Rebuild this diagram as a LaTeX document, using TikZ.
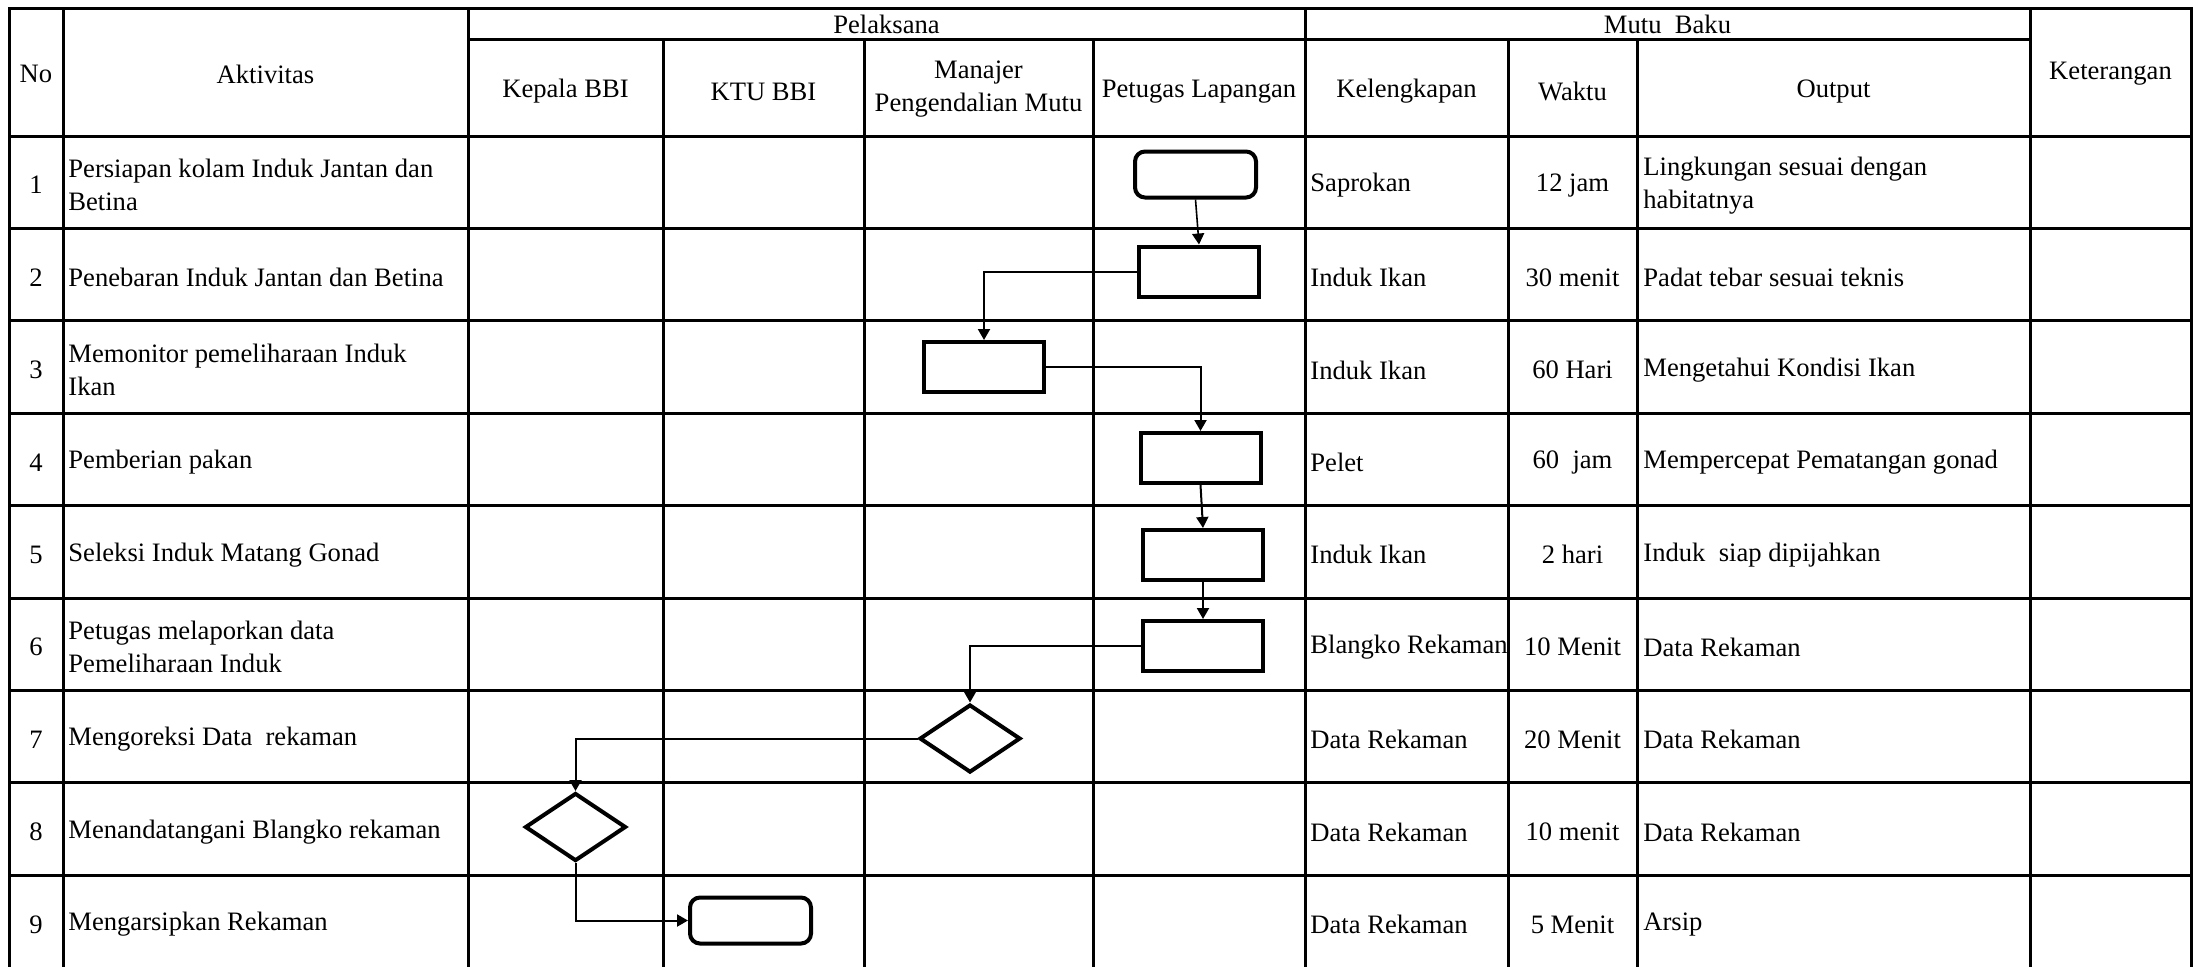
\documentclass[tikz,border=0pt]{standalone}
\usepackage{fontspec}
\setmainfont{Liberation Serif}
\usetikzlibrary{shapes.geometric,arrows.meta}
\begin{document}
\begin{tikzpicture}[x=0.5pt,y=-0.5pt,
  grid/.style={line width=1.5pt, line cap=rect},
  txt/.style={font=\fontsize{13.3}{16.5}\selectfont, inner sep=0pt},
  ltxt/.style={txt, anchor=west, align=left, yshift=-1.5pt},
  ctxt/.style={txt, align=center},
  rtxt/.style={ctxt, yshift=-1.5pt},
  proc/.style={draw, line width=2pt, minimum width=60pt, minimum height=25pt, inner sep=0pt},
  term/.style={proc, rounded corners=5pt, minimum width=60.5pt, minimum height=23pt},
  dec/.style={draw, diamond, line width=2pt, minimum width=50.5pt, minimum height=34pt, inner sep=0pt},
  conn/.style={line width=1pt, -{Triangle[width=6pt,length=5.5pt]}}
]
\useasboundingbox (0,0) rectangle (2198,966);
% grid
\foreach \x in {9,63,468,1305,2030,2191} \draw[grid] (\x,8) -- (\x,966);
\foreach \x in {663,864,1093,1508,1637} \draw[grid] (\x,39) -- (\x,966);
\draw[grid] (9,8) -- (2191,8);
\draw[grid] (468,39) -- (2030,39);
\foreach \k in {0,...,8} \draw[grid] (9,{136+92.4*\k}) -- (2191,{136+92.4*\k});
% headers
\node[ctxt] (hNo) at (36,74) {No};
\node[ctxt] (hAkt) at (265.5,74) {Aktivitas};
\node[ctxt] (hPel) at (886.5,24) {Pelaksana};
\node[ctxt] (hMutu) at (1667.5,24) {Mutu~ Baku};
\node[ctxt] (hKep) at (565.5,91.5) {Kepala BBI};
\node[ctxt] (hKtu) at (763.5,91.5) {KTU BBI};
\node[ctxt] (hMan) at (978.5,89.5) {Manajer\\Pengendalian Mutu};
\node[ctxt] (hPet) at (1199,91.5) {Petugas Lapangan};
\node[ctxt] (hKel) at (1406.5,91.5) {Kelengkapan};
\node[ctxt] (hWak) at (1572.5,91.5) {Waktu};
\node[ctxt] (hOut) at (1833.5,91.5) {Output};
\node[ctxt] (hKet) at (2110.5,74) {Keterangan};
% rows
\foreach \n/\act/\kel/\wak/\out in {
  1/{Persiapan kolam Induk Jantan dan\\Betina}/Saprokan/12 jam/{Lingkungan sesuai dengan\\habitatnya},
  2/{Penebaran Induk Jantan dan Betina}/Induk Ikan/30 menit/{Padat tebar sesuai teknis},
  3/{Memonitor pemeliharaan Induk\\Ikan}/Induk Ikan/60 Hari/{Mengetahui Kondisi Ikan},
  4/{Pemberian pakan}/Pelet/{60~ jam}/{Mempercepat Pematangan gonad},
  5/{Seleksi Induk Matang Gonad}/Induk Ikan/2 hari/{Induk~ siap dipijahkan},
  6/{Petugas melaporkan data\\Pemeliharaan Induk}/Blangko Rekaman/10 Menit/{Data Rekaman},
  7/{Mengoreksi Data~ rekaman}/Data Rekaman/20 Menit/{Data Rekaman},
  8/{Menandatangani Blangko rekaman}/Data Rekaman/10 menit/{Data Rekaman},
  9/{Mengarsipkan Rekaman}/Data Rekaman/5 Menit/{Arsip}} {
  \node[rtxt] (no\n) at (36,{136+92.4*(\n-0.5)}) {\n};
  \node[ltxt] (act\n) at (68,{136+92.4*(\n-0.5)}) {\act};
  \node[ltxt] (kel\n) at (1310,{136+92.4*(\n-0.5)}) {\kel};
  \node[rtxt] (wak\n) at (1572.5,{136+92.4*(\n-0.5)}) {\wak};
  \node[ltxt] (out\n) at (1643,{136+92.4*(\n-0.5)}) {\out};
}
% flow shapes
\node[term] (s1) at (1195.5,174.5) {};
\node[proc] (s2) at (1199,271.5) {};
\node[proc] (s3) at (984,367) {};
\node[proc] (s4) at (1200.5,458) {};
\node[proc] (s5) at (1203,555) {};
\node[proc] (s6) at (1203,646) {};
\node[dec] (d7) at (970,738.5) {};
\node[dec] (d8) at (575.5,827) {};
\node[term] (s9) at (750.5,920.5) {};
% connectors
\draw[conn, line width=0.8pt] (s1.south) -- (s2.north);
\draw[conn] (s2.west) -| (s3.north);
\draw[conn] (s3.east) -| (s4.north);
\draw[conn] (s4.south) -- (s5.north);
\draw[conn] (s5.south) -- (s6.north);
\draw[conn] (s6.west) -| (d7.north);
\draw[conn] (d7.west) -| (d8.north);
\draw[conn] (d8.south) |- (s9.west);
\end{tikzpicture}
\end{document}
